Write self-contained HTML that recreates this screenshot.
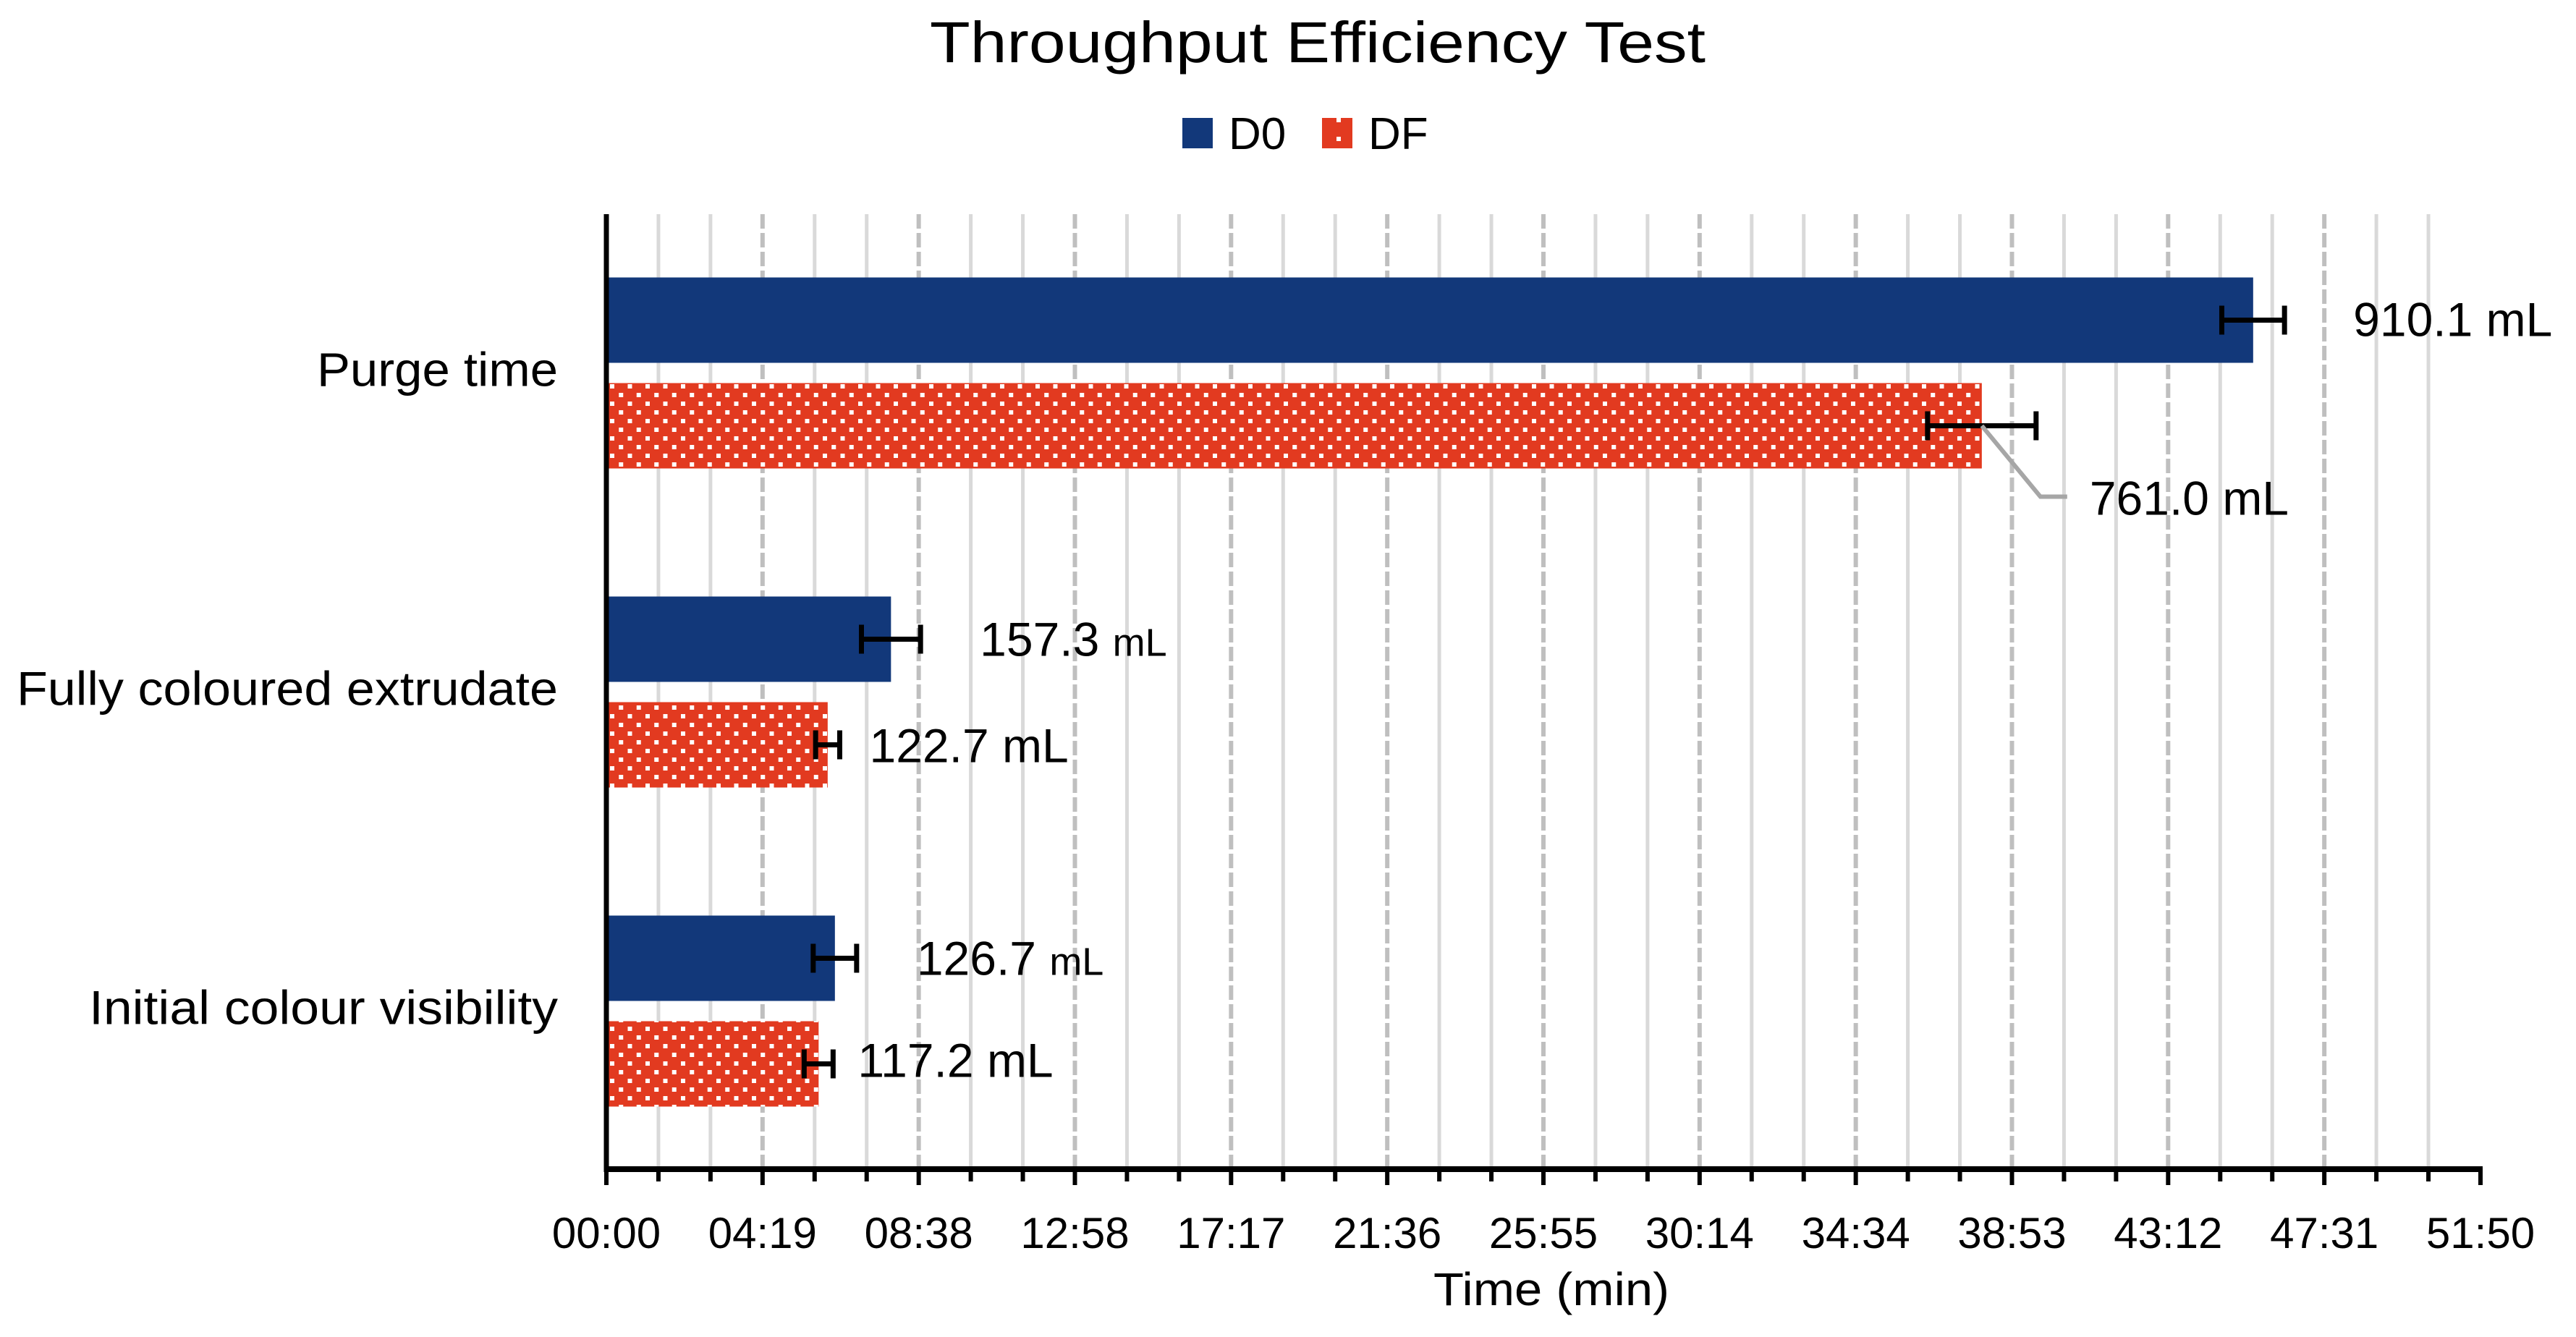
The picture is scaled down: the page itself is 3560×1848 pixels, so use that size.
<!DOCTYPE html>
<html><head><meta charset="utf-8"><style>
html,body{margin:0;padding:0;background:#fff;}
svg{display:block;font-family:"Liberation Sans",sans-serif;}
</style></head><body>
<svg id="chart" width="3560" height="1848" viewBox="0 0 3560 1848" xmlns="http://www.w3.org/2000/svg">
<defs>
<pattern id="dots" patternUnits="userSpaceOnUse" width="24.5" height="24" x="838" y="0">
<rect width="24.5" height="24" fill="#e23a20"/>
<rect x="5" y="3" width="6" height="6" fill="#fff"/>
<rect x="17.25" y="15" width="6" height="6" fill="#fff"/>
</pattern>
</defs>
<text x="1821" y="86" font-size="80" text-anchor="middle" textLength="1072" lengthAdjust="spacingAndGlyphs">Throughput Efficiency Test</text>
<g>
<rect x="1634" y="163" width="42" height="42" fill="#12387a"/>
<text x="1698" y="206" font-size="62">D0</text>
<rect x="1827" y="163" width="42" height="42" fill="#e23a20"/>
<rect x="1847" y="163" width="6" height="6" fill="#fff"/><rect x="1847" y="189" width="6" height="6" fill="#fff"/>
<text x="1891" y="206" font-size="62">DF</text>
</g>
<g id="grid"></g>
<g id="bars"></g>
<g id="axes"></g>
</svg>
<script>
const categories = ["Purge time", "Fully coloured extrudate", "Initial colour visibility"];
const d0Values = [2731, 472, 379];   // seconds
const dfValues = [2281, 367, 352];
const d0Errors = [52, 49, 36];
const dfErrors = [90, 20, 24];
const d0Labels = ["910.1", "157.3", "126.7"];
const dfLabels = ["761.0", "122.7", "117.2"];
const tickLabels = ["00:00","04:19","08:38","12:58","17:17","21:36","25:55","30:14","34:34","38:53","43:12","47:31","51:50"];
const xMax = 3108;

const NS = "http://www.w3.org/2000/svg";
const X0 = 838, X1 = 3428, TOP = 296, AXY = 1616;
const bandH = 441, barH = 118;
const catWidths = [333, 748, 648];
function xs(v){ return X0 + v / xMax * (X1 - X0); }
function band(i){ return TOP + bandH * (i + 0.5); }
function mk(tag, attrs, parent){ const e = document.createElementNS(NS, tag); for (const k in attrs) e.setAttribute(k, attrs[k]); parent.appendChild(e); return e; }
const grid = document.getElementById('grid'), bars = document.getElementById('bars'), axes = document.getElementById('axes');

const nMinor = (tickLabels.length - 1) * 3;
for (let i = 1; i < nMinor; i++) {
  const x = X0 + i * (X1 - X0) / nMinor;
  const major = i % 3 === 0;
  const g = mk('line', {x1:x, x2:x, y1:TOP, y2:AXY, stroke: major ? '#bfbfbf' : '#d9d9d9', 'stroke-width': major ? 6 : 5, 'stroke-dasharray': major ? '20 6' : 'none'}, grid);
  
  
}

function errBar(cx, cy, e, name){
  const g = mk('g', {stroke:'#000', 'stroke-width':7}, bars);
  
  
  const l = xs(cx - e), r = xs(cx + e);
  mk('line', {x1:l, x2:r, y1:cy, y2:cy}, g);
  mk('line', {x1:l, x2:l, y1:cy-20, y2:cy+20}, g);
  mk('line', {x1:r, x2:r, y1:cy-20, y2:cy+20}, g);
}
function label(x, y, num, smallUnit, name){
  const t = mk('text', {x:x, y:y, 'font-size':66}, bars);
  
  
  t.textContent = num + ' ';
  const s = mk('tspan', {'font-size': smallUnit ? 54 : 66}, t);
  s.textContent = 'mL';
}

categories.forEach((c, i) => {
  const cy = band(i);
  const y0 = cy - 15 - barH, y1 = cy + 13;
  const b0 = mk('rect', {x:X0, y:y0, width:xs(d0Values[i]) - X0, height:barH, fill:'#12387a'}, bars);
  
  
  const b1 = mk('rect', {x:X0, y:y1, width:xs(dfValues[i]) - X0, height:barH, fill:'url(#dots)'}, bars);
  
  
  errBar(d0Values[i], y0 + barH/2, d0Errors[i], 'error-bar-d0-' + i);
  errBar(dfValues[i], y1 + barH/2, dfErrors[i], 'error-bar-df-' + i);
  const ct = mk('text', {x:771, y:cy + 17, 'font-size':66, 'text-anchor':'end', textLength:catWidths[i], lengthAdjust:'spacingAndGlyphs'}, axes);
  
  
  ct.textContent = c;
});
label(xs(d0Values[0] + d0Errors[0]) + 95, band(0) - 52, d0Labels[0], false, 'data-label-d0-0');
label(xs(dfValues[0]) + 149, band(0) + 195, dfLabels[0], false, 'data-label-df-0');
const leader = mk('polyline', {points: [xs(dfValues[0]),band(0)+72, xs(dfValues[0])+81,band(0)+170, xs(dfValues[0])+118,band(0)+170].join(' '), fill:'none', stroke:'#a6a6a6', 'stroke-width':6}, bars);


label(xs(d0Values[1] + d0Errors[1]) + 82, band(1) - 51, d0Labels[1], true, 'data-label-d0-1');
label(xs(dfValues[1] + dfErrors[1]) + 41, band(1) + 96, dfLabels[1], false, 'data-label-df-1');
label(xs(d0Values[2] + d0Errors[2]) + 83, band(2) - 51, d0Labels[2], true, 'data-label-d0-2');
label(xs(dfValues[2] + dfErrors[2]) + 34, band(2) + 90, dfLabels[2], false, 'data-label-df-2');

const ya = mk('line', {x1:X0, x2:X0, y1:TOP, y2:AXY+4, stroke:'#000', 'stroke-width':7}, axes);


const xa = mk('line', {x1:X0-3, x2:X1+3, y1:AXY, y2:AXY, stroke:'#000', 'stroke-width':8}, axes);


for (let i = 0; i <= nMinor; i++) {
  const x = X0 + i * (X1 - X0) / nMinor;
  const major = i % 3 === 0;
  const t = mk('line', {x1:x, x2:x, y1:AXY, y2:major ? 1638 : 1633, stroke:'#000', 'stroke-width':6}, axes);
  
  
}
tickLabels.forEach((s, i) => {
  const t = mk('text', {x: X0 + i * (X1 - X0) / (tickLabels.length - 1), y:1725, 'font-size':60, 'text-anchor':'middle'}, axes);
  
  
  t.textContent = s;
});
const xt = mk('text', {x:2144, y:1804, 'font-size':64, 'text-anchor':'middle', textLength:326, lengthAdjust:'spacingAndGlyphs'}, axes);


xt.textContent = 'Time (min)';
</script>
</body></html>
